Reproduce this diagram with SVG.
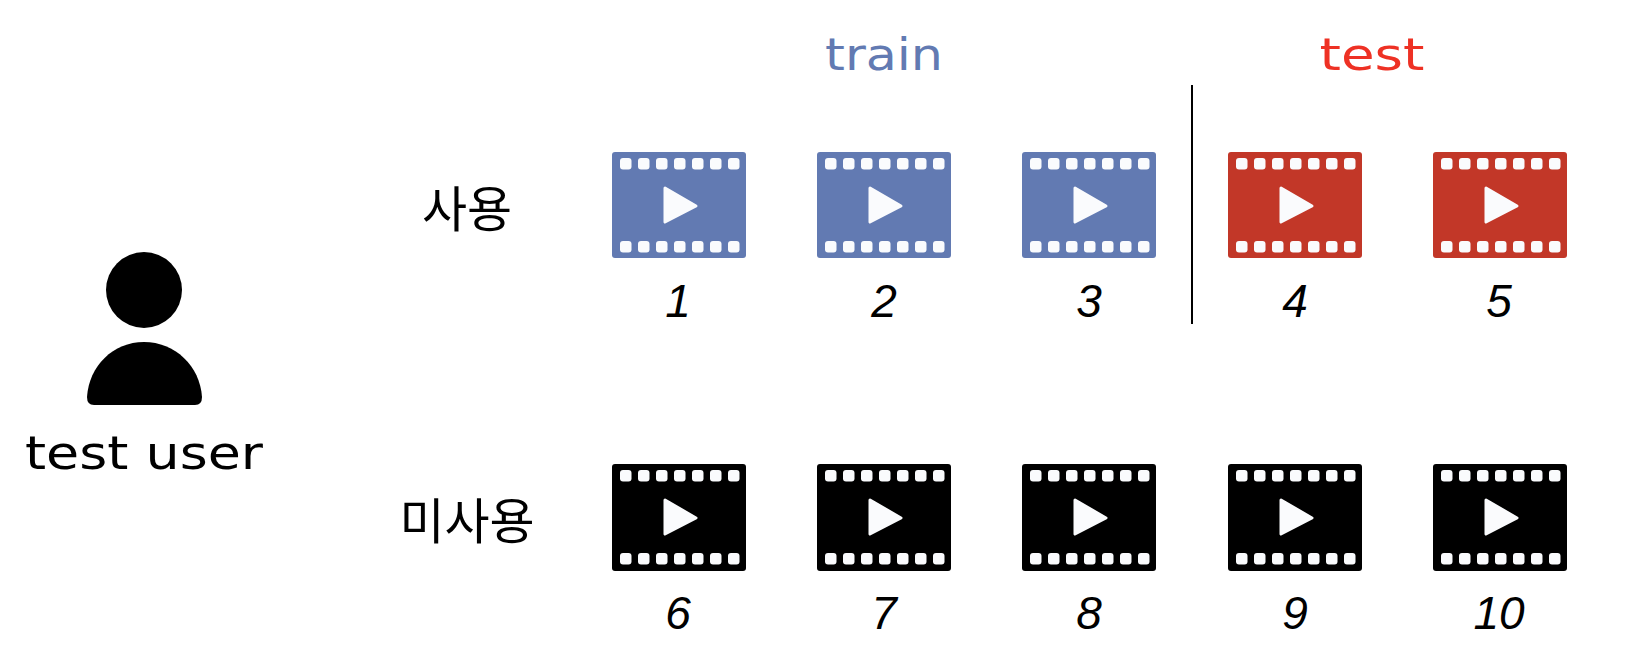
<svg xmlns="http://www.w3.org/2000/svg" width="1648" height="672" viewBox="0 0 1648 672">
<style>
text{font-family:"Liberation Sans","Noto Sans CJK KR",sans-serif;text-anchor:middle}
.num{font-size:46px;font-style:italic;fill:#000}
.kr{font-family:"Noto Sans CJK KR",sans-serif;font-size:49px;fill:#000}
.hole{fill:#fafbfd}
.blue{fill:#627ab2}.red{fill:#c23728}.black{fill:#000}
</style>
<defs>
<g id="holes">
<rect class="hole" x="8" y="0" width="11.5" height="11.5" rx="3"/><rect class="hole" x="26" y="0" width="11.5" height="11.5" rx="3"/><rect class="hole" x="44" y="0" width="11.5" height="11.5" rx="3"/><rect class="hole" x="62" y="0" width="11.5" height="11.5" rx="3"/><rect class="hole" x="80" y="0" width="11.5" height="11.5" rx="3"/><rect class="hole" x="98" y="0" width="11.5" height="11.5" rx="3"/><rect class="hole" x="116" y="0" width="11.5" height="11.5" rx="3"/>
</g>
<g id="film">
<use href="#holes" y="6"/><use href="#holes" y="89"/>
<path class="hole" d="M53 36L84 54L53 70Z" stroke="#fafbfd" stroke-width="3" stroke-linejoin="round"/>
</g>
</defs>
<g id="user">
<circle cx="144" cy="290" r="38"/>
<path d="M87 397C89 366 113 342 144 342C175 342 200 366 202 397Q202 405 195 405H94Q87 405 87 397Z"/>
<text x="144" y="469" font-size="46" style="font-family:'DejaVu Sans',sans-serif" textLength="238" lengthAdjust="spacingAndGlyphs">test user</text>
</g>
<g id="header-train"><text x="884" y="70" font-size="44" fill="#627ab2" style="font-family:'DejaVu Sans',sans-serif" textLength="118" lengthAdjust="spacingAndGlyphs">train</text></g>
<g id="header-test"><text x="1372" y="70" font-size="44" fill="#ee3124" style="font-family:'DejaVu Sans',sans-serif" textLength="105" lengthAdjust="spacingAndGlyphs">test</text></g>
<g id="label-used"><text class="kr" x="467" y="227">사용</text></g>
<g id="label-unused"><text class="kr" x="467" y="539">미사용</text></g>
<g id="connectors"><line x1="1192" y1="85" x2="1192" y2="324" stroke="#000" stroke-width="2"/></g>
<g id="v1"><rect class="blue" x="612" y="152" width="134" height="106" rx="3"/><use href="#film" x="612" y="152"/><text class="num" x="678" y="317">1</text></g>
<g id="v2"><rect class="blue" x="817" y="152" width="134" height="106" rx="3"/><use href="#film" x="817" y="152"/><text class="num" x="884" y="317">2</text></g>
<g id="v3"><rect class="blue" x="1022" y="152" width="134" height="106" rx="3"/><use href="#film" x="1022" y="152"/><text class="num" x="1089" y="317">3</text></g>
<g id="v4"><rect class="red" x="1228" y="152" width="134" height="106" rx="3"/><use href="#film" x="1228" y="152"/><text class="num" x="1295" y="317">4</text></g>
<g id="v5"><rect class="red" x="1433" y="152" width="134" height="106" rx="3"/><use href="#film" x="1433" y="152"/><text class="num" x="1499" y="317">5</text></g>
<g id="v6"><rect class="black" x="612" y="464" width="134" height="107" rx="3"/><use href="#film" x="612" y="464"/><text class="num" x="678" y="629">6</text></g>
<g id="v7"><rect class="black" x="817" y="464" width="134" height="107" rx="3"/><use href="#film" x="817" y="464"/><text class="num" x="884" y="629">7</text></g>
<g id="v8"><rect class="black" x="1022" y="464" width="134" height="107" rx="3"/><use href="#film" x="1022" y="464"/><text class="num" x="1089" y="629">8</text></g>
<g id="v9"><rect class="black" x="1228" y="464" width="134" height="107" rx="3"/><use href="#film" x="1228" y="464"/><text class="num" x="1295" y="629">9</text></g>
<g id="v10"><rect class="black" x="1433" y="464" width="134" height="107" rx="3"/><use href="#film" x="1433" y="464"/><text class="num" x="1499" y="629">10</text></g>
</svg>
